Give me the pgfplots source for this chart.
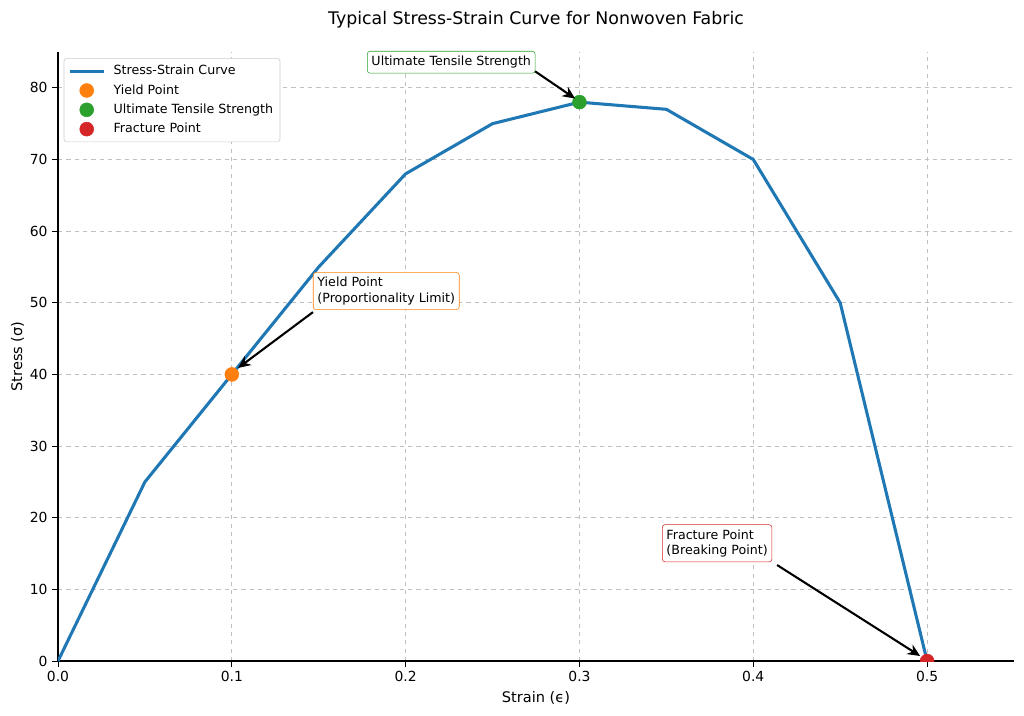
\documentclass[border=0pt]{standalone}
\usepackage{pgfplots}
\pgfplotsset{compat=1.18}
\usepackage{fontspec}
\setmainfont{DejaVu Sans}
\usetikzlibrary{arrows.meta}
\definecolor{tabblue}{HTML}{1F77B4}
\definecolor{taborange}{HTML}{FF7F0E}
\definecolor{tabgreen}{HTML}{2CA02C}
\definecolor{tabred}{HTML}{D62728}
\tikzset{anno/.style={rounded corners=2pt, fill=white, inner xsep=3pt, inner ysep=3.5pt,
  anchor=south west, align=left, font=\fontsize{9.1}{11}\selectfont},
  arr/.style={line width=1.5pt, -{Stealth[length=9pt,width=8pt]}}}
\begin{document}
\begin{tikzpicture}
\begin{axis}[
  scale only axis,
  width=688.3pt, height=438.5pt,
  xmin=0, xmax=0.55, ymin=0, ymax=85,
  xtick={0,0.1,...,0.5},
  ytick={0,10,...,80},
  xticklabel style={/pgf/number format/.cd,fixed,fixed zerofill,precision=1},
  /pgf/number format/assume math mode=true,
  tick label style={font=\fontsize{10}{12}\selectfont},
  axis x line*=bottom, axis y line*=left,
  tick align=outside,
  major tick length=4pt,
  tick style={black, line width=0.6pt},
  axis line style={line width=0.8pt},
  x axis line style={-}, y axis line style={-},
  grid=major,
  grid style={dashed, gray!50, line width=0.5pt},
  xlabel={Strain (ϵ)}, ylabel={Stress (σ)},
  label style={font=\fontsize{10.5}{13}\selectfont},
  xlabel style={at={(0.5,0)}, anchor=north, yshift=-18.5pt},
  ylabel style={at={(0,0.5)}, anchor=south, yshift=21pt},
  title={Typical Stress-Strain Curve for Nonwoven Fabric},
  title style={font=\fontsize{12.5}{14}\selectfont, at={(0.5,1)}, anchor=south, yshift=8pt},
  clip marker paths=true,
  legend cell align=left,
  legend image code/.code={\draw[mark repeat=2,mark phase=2,#1]
    plot coordinates {(0pt,0pt) (12.25pt,0pt) (24.5pt,0pt)};},
  legend style={at={(0.006,0.99)}, anchor=north west, draw=gray!40, rounded corners=2pt,
    font=\fontsize{9.1}{11}\selectfont, row sep=1.5pt, column sep=4pt, inner sep=3pt},
]
\addplot[tabblue, line width=2.2pt] coordinates {
  (0,0) (0.05,25) (0.1,40) (0.15,55) (0.2,68) (0.25,75)
  (0.3,78) (0.35,77) (0.4,70) (0.45,50) (0.5,0)};
\addlegendentry{Stress-Strain Curve}
\addplot[only marks, mark=*, mark size=5pt, color=taborange] coordinates {(0.1,40)};
\addlegendentry{Yield Point}
\addplot[only marks, mark=*, mark size=5pt, color=tabgreen] coordinates {(0.3,78)};
\addlegendentry{Ultimate Tensile Strength}
\addplot[only marks, mark=*, mark size=5pt, color=tabred] coordinates {(0.5,0)};
\addlegendentry{Fracture Point}

\coordinate (utsbox) at (axis cs:0.1778,82.0);
\coordinate (utsa) at (axis cs:0.2745,82.3);
\coordinate (utsb) at (axis cs:0.2975,78.5);
\coordinate (ylbox) at (axis cs:0.1467,49.0);
\coordinate (yla) at (axis cs:0.1467,48.7);
\coordinate (ylb) at (axis cs:0.1036,40.9);
\coordinate (frbox) at (axis cs:0.3475,13.8);
\coordinate (fra) at (axis cs:0.4137,13.4);
\coordinate (frb) at (axis cs:0.496,0.7);
\end{axis}
\node[anno, draw=tabgreen] at (utsbox) {Ultimate Tensile Strength};
\draw[arr] (utsa) -- (utsb);
\node[anno, draw=taborange] at (ylbox) {Yield Point\\(Proportionality Limit)};
\draw[arr] (yla) -- (ylb);
\node[anno, draw=tabred] at (frbox) {Fracture Point\\(Breaking Point)};
\draw[arr] (fra) -- (frb);
\pgfresetboundingbox
\path ([shift={(-41.76pt,-38.88pt)}]current axis.south west) rectangle
  ([shift={(7.2pt,37.44pt)}]current axis.north east);
\end{tikzpicture}
\end{document}
